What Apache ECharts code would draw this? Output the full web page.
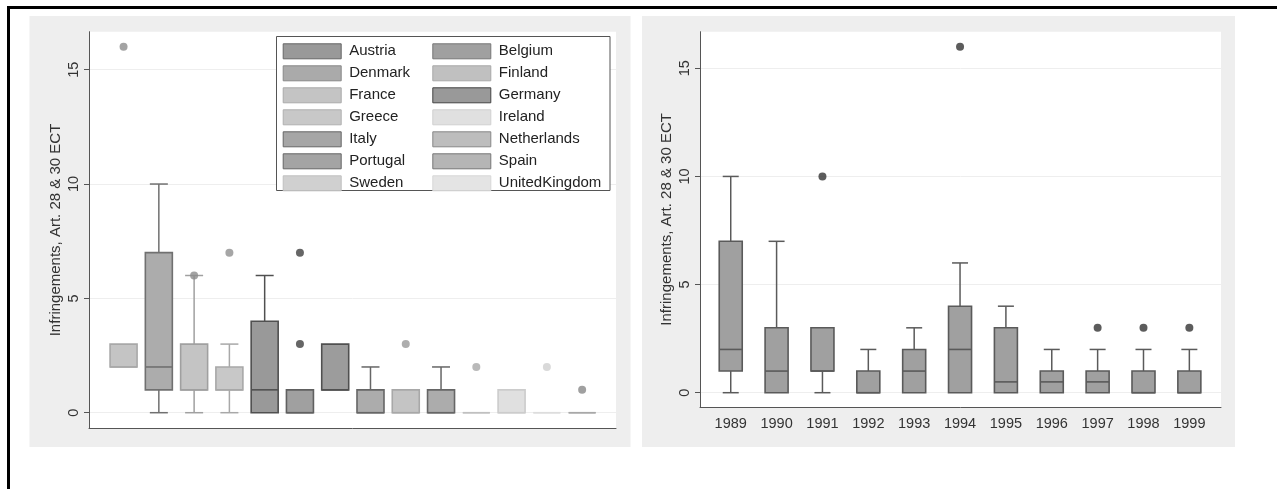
<!DOCTYPE html>
<html><head><meta charset="utf-8">
<script src="https://cdn.jsdelivr.net/npm/echarts@6/dist/echarts.min.js"></script>
<style>html,body{margin:0;padding:0;background:#fff}#c{width:1277px;height:489px}</style>
</head><body><div id="c"></div><script>
// ---------- data ----------
const countries = ['Austria','Belgium','Denmark','Finland','France','Germany','Greece','Ireland','Italy','Netherlands','Portugal','Spain','Sweden','UnitedKingdom'];
// left panel, boxes in plot order
const leftBoxCountry = ['France','Denmark','Finland','Greece','Germany','Belgium','Austria','Italy','Netherlands','Portugal','Sweden','Ireland','UnitedKingdom','Spain'];
const leftLow    = [2, 0, 0, 0, 0, 0, 1, 0, 0, 0, 0, 0, 0, 0];
const leftQ1     = [2, 1, 1, 1, 0, 0, 1, 0, 0, 0, 0, 0, 0, 0];
const leftMedian = [2, 2, 1, 1, 1, 0, 1, 0, 0, 0, 0, 0, 0, 0];
const leftQ3     = [3, 7, 3, 2, 4, 1, 3, 1, 1, 1, 0, 1, 0, 0];
const leftHigh   = [3,10, 6, 3, 6, 1, 3, 2, 1, 2, 0, 1, 0, 0];
const leftOutlierBox   = [1, 3, 4, 6, 6, 9, 11, 13, 14];
const leftOutlierValue = [16, 6, 7, 7, 3, 3, 2, 2, 1];
// right panel
const years = ['1989','1990','1991','1992','1993','1994','1995','1996','1997','1998','1999'];
const rightLow    = [0, 0, 0, 0, 0, 0, 0, 0, 0, 0, 0];
const rightQ1     = [1, 0, 1, 0, 0, 0, 0, 0, 0, 0, 0];
const rightMedian = [2, 1, 1, 0, 1, 2, 0.5, 0.5, 0.5, 0, 0];
const rightQ3     = [7, 3, 3, 1, 2, 4, 3, 1, 1, 1, 1];
const rightHigh   = [10, 7, 3, 2, 3, 6, 4, 2, 2, 2, 2];
const rightOutlierYear  = ['1991','1994','1997','1998','1999'];
const rightOutlierValue = [10, 16, 3, 3, 3];
const yTicks = [0, 5, 10, 15];
const yTitle = 'Infringements, Art. 28 & 30 ECT';

// ---------- styles ----------
const legendFill   = ['#999999','#a0a0a0','#aaaaaa','#c0c0c0','#c4c4c4','#999999','#c8c8c8','#e0e0e0','#a6a6a6','#bdbdbd','#a4a4a4','#b5b5b5','#d0d0d0','#e4e4e4'];
const legendBorder = ['#666666','#777777','#888888','#a8a8a8','#aaaaaa','#444444','#b0b0b0','#d0d0d0','#666666','#888888','#666666','#777777','#c0c0c0','#d8d8d8'];
const leftFill   = ['#c4c4c4','#acacac','#c4c4c4','#c8c8c8','#999999','#a0a0a0','#9c9c9c','#acacac','#c4c4c4','#acacac','#c0c0c0','#e0e0e0','#e4e4e4','#a8a8a8'];
const leftBorder = ['#a8a8a8','#707070','#a0a0a0','#a8a8a8','#505050','#606060','#505050','#666666','#a8a8a8','#666666','#c0c0c0','#cccccc','#dddddd','#a8a8a8'];
const leftOutlierColor = ['#8c8c8c','#8c8c8c','#909090','#404040','#404040','#999999','#a8a8a8','#d0d0d0','#888888'];
const FONT = '"Liberation Sans", Arial, sans-serif';

function boxRender(fill, stroke, boxW, capW) {
  return function (params, api) {
    const xv = api.value(0);
    const p = k => api.coord([xv, api.value(k)]);
    const lo = p(1), q1 = p(2), md = p(3), q3 = p(4), hi = p(5);
    const cx = lo[0];
    const ls = { stroke: stroke, lineWidth: 1.5, fill: null };
    const ch = [];
    if (hi[1] < q3[1] - 0.5) {
      ch.push({ type: 'line', shape: { x1: cx, y1: q3[1], x2: cx, y2: hi[1] }, style: ls });
      ch.push({ type: 'line', shape: { x1: cx - capW / 2, y1: hi[1], x2: cx + capW / 2, y2: hi[1] }, style: ls });
    }
    if (lo[1] > q1[1] + 0.5) {
      ch.push({ type: 'line', shape: { x1: cx, y1: q1[1], x2: cx, y2: lo[1] }, style: ls });
      ch.push({ type: 'line', shape: { x1: cx - capW / 2, y1: lo[1], x2: cx + capW / 2, y2: lo[1] }, style: ls });
    }
    ch.push({ type: 'rect', shape: { x: cx - boxW / 2, y: q3[1], width: boxW, height: q1[1] - q3[1] },
      style: { fill: fill, stroke: stroke, lineWidth: 1.6 } });
    ch.push({ type: 'line', shape: { x1: cx - boxW / 2, y1: md[1], x2: cx + boxW / 2, y2: md[1] },
      style: { stroke: stroke, lineWidth: 1.6 } });
    return { type: 'group', children: ch };
  };
}

const series = [];
leftBoxCountry.forEach((name, i) => {
  series.push({
    type: 'custom', name: name, xAxisIndex: 1, yAxisIndex: 1,
    itemStyle: { color: leftFill[i], borderColor: leftBorder[i] },
    renderItem: boxRender(leftFill[i], leftBorder[i], 27, 18),
    encode: { x: 0, y: [1, 2, 3, 4, 5] },
    data: [[i + 1, leftLow[i], leftQ1[i], leftMedian[i], leftQ3[i], leftHigh[i]]],
    clip: false, z: 2
  });
});
series.push({
  type: 'scatter', name: 'leftOutliers', xAxisIndex: 1, yAxisIndex: 1, symbolSize: 8, clip: false, z: 3,
  data: leftOutlierBox.map((b, i) => ({ value: [b, leftOutlierValue[i]], itemStyle: { color: leftOutlierColor[i] } }))
});
series.push({
  type: 'custom', name: 'years', xAxisIndex: 3, yAxisIndex: 3, clip: false, z: 2,
  renderItem: function (params, api) { return boxRender('#a0a0a0', '#5a5a5a', 23, 16)(params, api); },
  encode: { x: 0, y: [1, 2, 3, 4, 5] },
  data: years.map((y, i) => [i + 1, rightLow[i], rightQ1[i], rightMedian[i], rightQ3[i], rightHigh[i]])
});
series.push({
  type: 'scatter', name: 'rightOutliers', xAxisIndex: 3, yAxisIndex: 3, symbolSize: 8, clip: false, z: 3,
  itemStyle: { color: '#333333' },
  data: rightOutlierYear.map((y, i) => [years.indexOf(y) + 1, rightOutlierValue[i]])
});

const axisLineStyle = { show: true, onZero: false, lineStyle: { color: '#555', width: 1 } };
function frameY(min, max) {
  return { type: 'value', min: min, max: max, axisLine: axisLineStyle, axisTick: { show: false },
    axisLabel: { show: false }, splitLine: { show: false },
    name: yTitle, nameLocation: 'middle', nameGap: 26,
    nameTextStyle: { fontFamily: FONT, fontSize: 15, color: '#333' } };
}
function dataY() {
  return { type: 'value', min: yTicks[0], max: yTicks[yTicks.length - 1], interval: yTicks[1] - yTicks[0],
    axisLine: { show: false, onZero: false },
    axisTick: { show: true, length: 5, lineStyle: { color: '#555' } },
    axisLabel: { rotate: 90, margin: 8, fontFamily: FONT, fontSize: 14.5, color: '#333' },
    splitLine: { show: true, lineStyle: { color: '#eeeeee', width: 1 } } };
}
const col1 = countries.filter((c, i) => i % 2 === 0);
const col2 = countries.filter((c, i) => i % 2 === 1);
function legendData(list) {
  return list.map(n => {
    const k = countries.indexOf(n);
    return { name: n, itemStyle: { color: legendFill[k], borderColor: legendBorder[k], borderWidth: 1 } };
  });
}
const legendBase = { orient: 'vertical', padding: 0, itemWidth: 58, itemHeight: 15, itemGap: 6, icon: 'rect',
  selectedMode: false, textStyle: { fontFamily: FONT, fontSize: 15, color: '#222', lineHeight: 15, padding: [0, 0, 0, 3] } };

const option = {
  animation: false,
  backgroundColor: '#ffffff',
  grid: [
    { left: 89, top: 31.7, width: 527, height: 396.6, show: true, backgroundColor: '#fff', borderWidth: 0 },
    { left: 89, top: 69.7, width: 527, height: 343 },
    { left: 700, top: 31.7, width: 521, height: 375.3, show: true, backgroundColor: '#fff', borderWidth: 0 },
    { left: 700, top: 68.3, width: 521, height: 324.4 }
  ],
  xAxis: [
    { gridIndex: 0, type: 'value', min: 0.02, max: 14.96, axisLine: axisLineStyle, axisTick: { show: false }, axisLabel: { show: false }, splitLine: { show: false } },
    { gridIndex: 1, type: 'value', min: 0.02, max: 14.96, show: false },
    { gridIndex: 2, type: 'value', min: 0.33, max: 11.69, splitNumber: 11, axisLine: axisLineStyle, axisTick: { show: false }, splitLine: { show: false },
      axisLabel: { margin: 9, fontFamily: FONT, fontSize: 14.5, color: '#333',
        formatter: v => { const r = Math.round(v); return Math.abs(v - r) < 1e-6 && r >= 1 && r <= years.length ? years[r - 1] : ''; } } },
    { gridIndex: 3, type: 'value', min: 0.33, max: 11.69, show: false }
  ],
  yAxis: [
    Object.assign({ gridIndex: 0 }, frameY(-0.68, 16.66)),
    Object.assign({ gridIndex: 1 }, dataY()),
    Object.assign({ gridIndex: 2 }, frameY(-0.66, 16.69)),
    Object.assign({ gridIndex: 3 }, dataY())
  ],
  legend: [
    Object.assign({ left: 282.7, top: 43.3, data: legendData(col1) }, legendBase),
    Object.assign({ left: 432.3, top: 43.3, data: legendData(col2) }, legendBase)
  ],
  graphic: [
    { type: 'rect', z: -10, shape: { x: 29.5, y: 16, width: 601, height: 431 }, style: { fill: '#eeeeee' } },
    { type: 'rect', z: -10, shape: { x: 642, y: 16, width: 593, height: 431 }, style: { fill: '#eeeeee' } },
    { type: 'rect', z: 3, shape: { x: 276.5, y: 36.5, width: 333.5, height: 154 }, style: { fill: '#ffffff', stroke: '#555', lineWidth: 1 } },
    { type: 'rect', z: 10, shape: { x: 7, y: 6, width: 1270, height: 3 }, style: { fill: '#000' } },
    { type: 'rect', z: 10, shape: { x: 7, y: 6, width: 3, height: 483 }, style: { fill: '#000' } }
  ],
  series: series
};
const chart = echarts.init(document.getElementById('c'), null, { renderer: 'canvas' });
chart.setOption(option);
</script></body></html>
